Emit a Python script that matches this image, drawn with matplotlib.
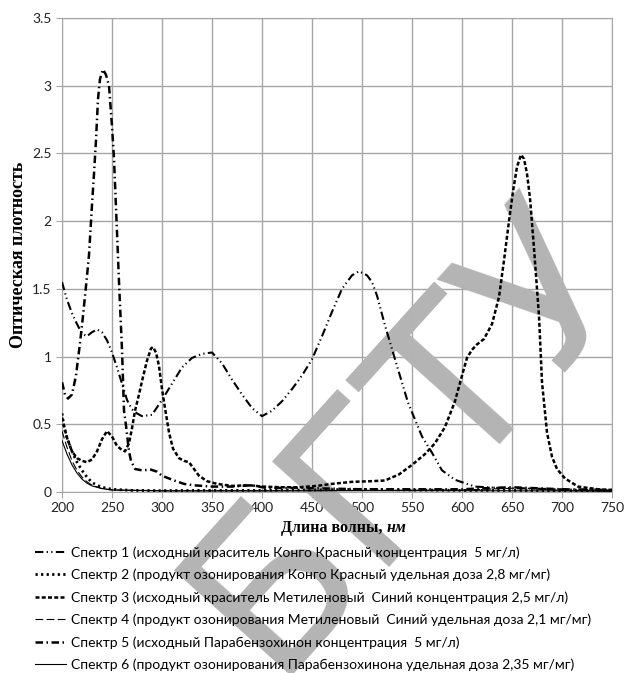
import numpy as np
import matplotlib.pyplot as plt

# spectra: wavelength (nm) and optical density
wl1 = [200, 205, 210, 215, 220, 225, 230, 235, 240, 245, 250, 255, 260, 265, 270, 275, 280, 290,
       300, 310, 320, 330, 340, 350, 360, 370, 380, 390, 400, 410, 420, 430, 440, 450, 460, 470,
       480, 490, 497, 505, 510, 515, 523, 533, 546, 560, 570, 580, 593, 613, 637, 670, 700, 750]
od1 = [1.55, 1.42, 1.32, 1.24, 1.17, 1.15, 1.18, 1.20, 1.18, 1.12, 1.03, 0.92, 0.80, 0.68, 0.61, 0.58, 0.56, 0.57,
       0.68, 0.80, 0.92, 0.99, 1.02, 1.03, 0.95, 0.83, 0.72, 0.62, 0.56, 0.60, 0.67, 0.76, 0.86, 0.98, 1.15, 1.33,
       1.50, 1.60, 1.63, 1.60, 1.55, 1.45, 1.23, 0.98, 0.66, 0.41, 0.29, 0.16, 0.09, 0.04, 0.03, 0.025, 0.02, 0.01]

wl2 = [200, 202, 205, 210, 215, 220, 225, 230, 235, 240, 250, 270, 300, 350, 400, 450, 500, 550, 600, 650, 700, 750]
od2 = [0.58, 0.48, 0.40, 0.30, 0.22, 0.16, 0.11, 0.07, 0.05, 0.035, 0.02, 0.012, 0.01, 0.012, 0.012, 0.015,
       0.02, 0.015, 0.012, 0.012, 0.01, 0.008]

wl3 = [200, 205, 210, 215, 220, 225, 230, 235, 240, 245, 250, 255, 260, 263, 267, 270, 273, 277, 281, 285,
       289, 291, 294, 297, 300, 303, 307, 311, 317, 322, 327, 332, 337, 345, 355, 370, 387, 400, 420, 437,
       455, 470, 490, 510, 523, 537, 550, 563, 573, 583, 593, 600, 605, 610, 615, 622, 630, 637, 642, 647,
       651, 655, 659, 662, 665, 668, 672, 677, 680, 685, 690, 695, 703, 716, 736, 750]
od3 = [0.55, 0.40, 0.30, 0.25, 0.23, 0.22, 0.24, 0.30, 0.39, 0.45, 0.41, 0.34, 0.31, 0.30, 0.36, 0.47, 0.60, 0.72, 0.85, 0.97,
       1.06, 1.07, 1.03, 0.93, 0.76, 0.62, 0.44, 0.32, 0.25, 0.23, 0.22, 0.17, 0.12, 0.08, 0.06, 0.045, 0.05, 0.04, 0.035, 0.035,
       0.045, 0.06, 0.075, 0.08, 0.085, 0.13, 0.20, 0.28, 0.36, 0.48, 0.67, 0.86, 0.99, 1.05, 1.09, 1.13, 1.24, 1.44, 1.71, 2.00,
       2.22, 2.40, 2.49, 2.46, 2.35, 2.17, 1.80, 1.30, 0.81, 0.44, 0.26, 0.17, 0.10, 0.04, 0.02, 0.015]

wl4 = [200, 205, 210, 215, 220, 225, 230, 240, 250, 300, 400, 500, 600, 640, 660, 680, 700, 750]
od4 = [0.45, 0.33, 0.23, 0.16, 0.11, 0.075, 0.05, 0.025, 0.015, 0.01, 0.01, 0.012, 0.015, 0.025, 0.03, 0.02, 0.012, 0.008]

wl5 = [200, 203, 206, 210, 214, 218, 221, 224, 227, 230, 232, 234, 236, 238, 241, 244, 247, 250, 252, 255,
       257, 260, 262, 264, 267, 269, 273, 280, 289, 295, 300, 307, 314, 322, 331, 350, 370, 390, 404, 437,
       500, 550, 600, 630, 650, 700, 750]
od5 = [0.81, 0.72, 0.69, 0.72, 0.86, 1.10, 1.30, 1.52, 1.75, 2.12, 2.35, 2.60, 2.90, 3.05, 3.12, 3.08, 3.00, 2.70, 2.46, 1.92,
       1.55, 1.05, 0.60, 0.49, 0.30, 0.23, 0.17, 0.16, 0.165, 0.15, 0.12, 0.10, 0.08, 0.06, 0.05, 0.04, 0.04, 0.05, 0.03, 0.03,
       0.02, 0.02, 0.02, 0.03, 0.035, 0.02, 0.015]

wl6 = [200, 205, 210, 215, 220, 225, 230, 240, 250, 300, 400, 500, 600, 700, 750]
od6 = [0.38, 0.28, 0.20, 0.14, 0.095, 0.065, 0.045, 0.025, 0.015, 0.008, 0.008, 0.01, 0.01, 0.008, 0.006]

labels = ['Спектр 1 (исходный краситель Конго Красный концентрация  5 мг/л)',
          'Спектр 2 (продукт озонирования Конго Красный удельная доза 2,8 мг/мг)',
          'Спектр 3 (исходный краситель Метиленовый  Синий концентрация 2,5 мг/л)',
          'Спектр 4 (продукт озонирования Метиленовый  Синий удельная доза 2,1 мг/мг)',
          'Спектр 5 (исходный Парабензохинон концентрация  5 мг/л)',
          'Спектр 6 (продукт озонирования Парабензохинона удельная доза 2,35 мг/мг)']

fig = plt.figure(figsize=(6.24, 6.73), dpi=100)
ax = fig.add_axes([62/624, 1-492/673, 550/624, 474/673])

ax.plot(wl1, od1, color='k', lw=1.5, ls=(0, (4, 1.6, 0.6, 1.6, 0.6, 1.6)), label=labels[0], zorder=3)
ax.plot(wl2, od2, color='k', lw=2.0, ls=(0, (0.8, 1.2)), label=labels[1], zorder=3)
ax.plot(wl3, od3, color='k', lw=1.8, ls=(0, (1.6, 0.9)), label=labels[2], zorder=3)
ax.plot(wl4, od4, color='k', lw=0.8, ls=(0, (7, 3)), label=labels[3], zorder=3)
ax.plot(wl5, od5, color='k', lw=1.8, ls=(0, (3, 1.4, 0.6, 1.4)), label=labels[4], zorder=3)
ax.plot(wl6, od6, color='k', lw=0.8, ls='-', label=labels[5], zorder=3)

ax.set_xlim(200, 750)
ax.set_ylim(0, 3.5)
ax.set_xticks(np.arange(200, 751, 50))
ax.set_yticks(np.arange(0, 3.51, 0.5))
ax.set_yticklabels(['0', '0.5', '1', '1.5', '2', '2.5', '3', '3.5'])
ax.grid(True, color='#a6a6a6', lw=1.0)
ax.set_axisbelow(True)
for s in ax.spines.values():
    s.set_color('#a6a6a6')
ax.tick_params(colors='#a6a6a6', labelcolor='#222222', length=4, labelsize=10)
for t in ax.get_xticklabels() + ax.get_yticklabels():
    t.set_family('Lato')

ax.set_ylabel('Оптическая плотность', family='Liberation Serif', fontweight='bold', fontsize=13, labelpad=4)
xl = fig.text(0.535, 1-528/673, 'Длина волны, ', family='Liberation Serif', fontweight='bold',
              fontsize=11.5, ha='center', va='center')
ax.annotate('нм', xy=(1, 0), xycoords=xl, va='bottom', ha='left', family='Liberation Serif',
            fontweight='bold', style='italic', fontsize=11.5, annotation_clip=False)

# watermark
ax.text(0.724, 0.294, 'БГТУ', transform=fig.transFigure, rotation=48, rotation_mode='anchor',
        fontsize=155, color='#b4b4b4', ha='center', va='baseline', family='DejaVu Sans',
        zorder=1, clip_on=False)

h, l = ax.get_legend_handles_labels()
fig.legend(h, l, loc='upper left', bbox_to_anchor=(35/624, 1-546/673), frameon=False,
           prop={'family': 'Lato', 'size': 10}, handlelength=2.2, handletextpad=0.4,
           labelspacing=0.72, borderpad=0, borderaxespad=0)

fig.savefig('out.png', dpi=100)
